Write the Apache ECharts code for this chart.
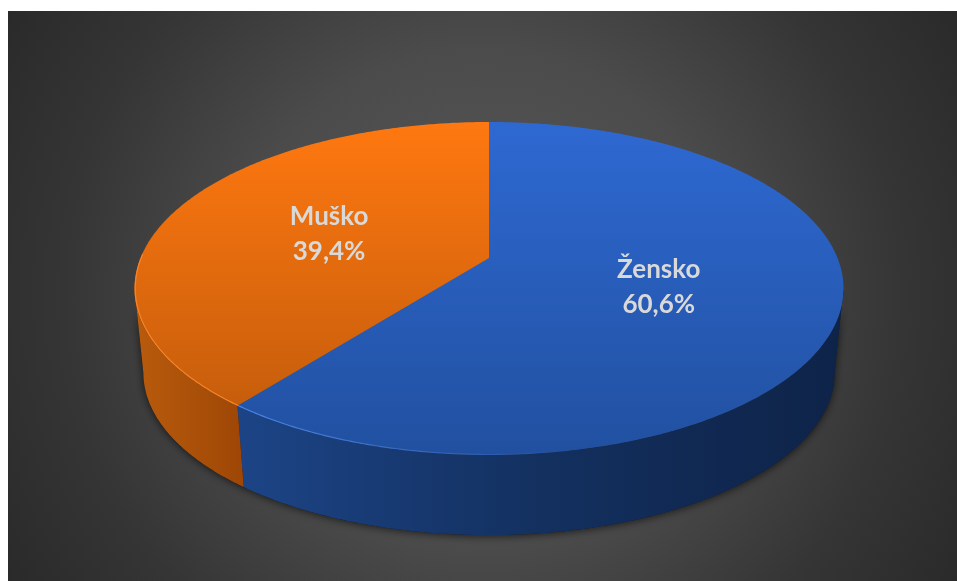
<!DOCTYPE html>
<html>
<head>
<meta charset="utf-8">
<style>
  html, body { margin: 0; padding: 0; background: #fff; }
  #chart { width: 957px; height: 581px; }
</style>
<script src="https://cdn.jsdelivr.net/npm/echarts@6/dist/echarts.min.js"></script>
</head>
<body>
<div id="chart"></div>
<script>
const categories = ["Žensko", "Muško"];
const shares = [60.6, 39.4];

// colours per slice
const topColors = [
  ["#2e69d2", "#2150a0"],
  ["#ff7810", "#bd590b"],
];
const wallColors = [
  ["#1c4486", "#13305f", "#0e2348"],
  ["#b95b0d", "#ab5109", "#9e4606"],
];
const rimColors = ["#4c86e8", "#f8842a"];

// perspective of the tilted disc, fitted to the picture
const cx = 489;
const cy = 258;
const rx = 348.5;
const ry = 160.9;
const tilt = 0.1832;
const floorScale = 0.975;
const floorDrop = 85;
const labelDrop = 2;

const total = shares.reduce((a, b) => a + b, 0);

function project(deg, r, floor) {
  const a = (deg * Math.PI) / 180;
  const u = Math.sin(a) * r;
  const v = -Math.cos(a) * r;
  const w = 1 - tilt * v;
  const s = floor ? floorScale : 1;
  return [cx + (s * rx * u) / w, cy + (s * ry * v) / w + (floor ? floorDrop : 0)];
}

function sweep(index) {
  const before = shares.slice(0, index).reduce((a, b) => a + b, 0);
  return [(before / total) * 360, ((before + shares[index]) / total) * 360];
}

function arc(from, to, r, floor) {
  const pts = [];
  const n = Math.max(2, Math.ceil(Math.abs(to - from) * 2));
  for (let i = 0; i <= n; i++) {
    pts.push(project(from + ((to - from) * i) / n, r, floor));
  }
  return pts;
}

// the wall only shows on the near side, between the two silhouette points
const edgeRight = (Math.acos(-tilt) * 180) / Math.PI;
const edgeLeft = 360 - edgeRight;

function wallPoints(from, to) {
  return arc(from, to, 1, false).concat(arc(to, from, 1, true));
}

// whole near wall, only there to throw the soft shadow on the floor
function renderShadow() {
  return {
    type: "polygon",
    shape: { points: wallPoints(edgeRight, edgeLeft) },
    style: {
      fill: "#1a1a1a",
      shadowColor: "rgba(0,0,0,0.65)",
      shadowBlur: 9,
      shadowOffsetY: 1,
    },
  };
}

function renderWall(params) {
  const [a0, a1] = sweep(params.dataIndex);
  const from = Math.max(a0, edgeRight);
  const to = Math.min(a1, edgeLeft);
  if (from >= to) return null;
  const pts = wallPoints(from, to);
  const xs = pts.map((p) => p[0]);
  const c = wallColors[params.dataIndex];
  return {
    type: "polygon",
    shape: { points: pts },
    style: {
      fill: new echarts.graphic.LinearGradient(
        Math.min(...xs),
        0,
        Math.max(...xs),
        0,
        [
          { offset: 0, color: c[0] },
          { offset: 0.5, color: c[1] },
          { offset: 1, color: c[2] },
        ],
        true
      ),
    },
  };
}

function renderTop(params) {
  const i = params.dataIndex;
  const [a0, a1] = sweep(i);
  const mid = (a0 + a1) / 2;
  const labelPos = project(mid, 0.5, false);
  const c = topColors[i];
  const children = [
    {
      type: "polygon",
      shape: { points: [[cx, cy]].concat(arc(a0, a1, 1, false)) },
      style: {
        fill: new echarts.graphic.LinearGradient(
          0,
          122,
          0,
          455,
          [
            { offset: 0, color: c[0] },
            { offset: 1, color: c[1] },
          ],
          true
        ),
      },
    },
  ];
  // light edge along the near rim
  const rimFrom = i === 0 ? 170 : a0;
  const rimTo = i === 0 ? a1 : edgeLeft + 12;
  const rim = arc(rimFrom, rimTo, 0.998, false);
  children.push({
    type: "polyline",
    shape: { points: rim },
    style: {
      fill: null,
      lineWidth: 1.2,
      stroke:
        i === 0
          ? new echarts.graphic.LinearGradient(
              rim[rim.length - 1][0],
              0,
              rim[0][0],
              0,
              [
                { offset: 0, color: rimColors[0] },
                { offset: 1, color: "rgba(76,134,232,0)" },
              ],
              true
            )
          : rimColors[1],
    },
  });
  children.push({
    type: "text",
    x: labelPos[0],
    y: labelPos[1] + labelDrop,
    style: {
      text: `${categories[i]}\n${shares[i].toFixed(1).replace(".", ",")}%`,
      fontFamily: "Lato",
      fontWeight: "bold",
      fontSize: 26,
      lineHeight: 35,
      fill: "#d9d9d9",
      align: "center",
      verticalAlign: "middle",
    },
  });
  return { type: "group", children };
}

const chart = echarts.init(document.getElementById("chart"));
const sliceData = categories.map((name, i) => ({ name, value: shares[i] }));

chart.setOption({
  animation: false,
  graphic: [
    {
      type: "rect",
      z: -10,
      shape: { x: 8, y: 11, width: 949, height: 570 },
      style: {
        fill: new echarts.graphic.RadialGradient(0.5, 0.5, 0.97, [
          { offset: 0, color: "#5a5a5a" },
          { offset: 0.45, color: "#4b4b4b" },
          { offset: 0.76, color: "#353535" },
          { offset: 1, color: "#2a2a2a" },
        ]),
      },
    },
  ],
  series: [
    {
      type: "custom",
      coordinateSystem: "none",
      z: 1,
      data: [total],
      renderItem: renderShadow,
    },
    {
      type: "custom",
      coordinateSystem: "none",
      z: 2,
      data: sliceData,
      renderItem: renderWall,
    },
    {
      type: "custom",
      coordinateSystem: "none",
      z: 3,
      data: sliceData,
      renderItem: renderTop,
    },
  ],
});
</script>
</body>
</html>
